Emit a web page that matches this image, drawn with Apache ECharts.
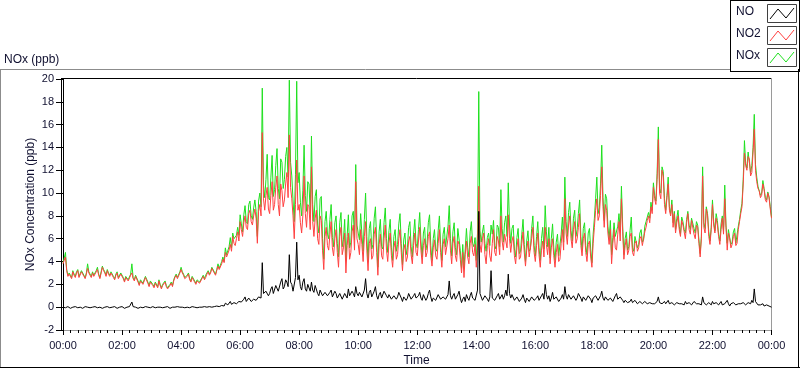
<!DOCTYPE html>
<html><head><meta charset="utf-8">
<script src="https://cdn.jsdelivr.net/npm/echarts@6/dist/echarts.min.js"></script>
<style>html,body{margin:0;padding:0;background:#fff}#c{width:800px;height:369px}</style>
</head><body><div id="c"></div>
<script>
// sampling: one value every 2.5 minutes from 00:00 to 24:00 (one row per hour)
const stepMinutes = 2.5;
const xTickLabels = ['00:00','02:00','04:00','06:00','08:00','10:00','12:00','14:00','16:00','18:00','20:00','22:00','00:00'];
const seriesNames = ['NO', 'NO2', 'NOx'];
const xAxisTitle = 'Time';
const yAxisTitle = 'NOx Concentration (ppb)';
const panelTitle = 'NOx (ppb)';

const no = [
 0.0,0.05,-0.05,0.0,0.05,-0.1,-0.1,0.0,0.0,0.05,0.05,-0.05,-0.05,0.0,0.0,-0.1,-0.1,0.0,0.05,0.0,0.0,0.05,-0.05,0.0,
 0.0,-0.05,0.05,0.0,-0.05,0.05,0.0,-0.1,-0.1,0.0,0.0,0.05,0.05,-0.05,-0.05,0.0,0.0,0.05,0.05,-0.05,-0.1,0.0,0.0,0.05,
 0.05,0.0,-0.1,0.0,0.0,-0.05,0.05,0.1,0.45,0.05,-0.05,0.0,0.0,-0.1,-0.05,0.0,0.05,-0.05,0.0,0.05,-0.05,0.0,0.0,-0.05,
 0.0,0.05,0.05,-0.05,-0.05,0.0,-0.1,0.0,0.0,-0.05,0.05,0.0,-0.05,0.05,0.0,-0.1,-0.05,0.0,0.05,0.0,0.0,0.05,0.1,0.0,
 0.05,0.0,0.0,-0.05,-0.05,0.0,0.05,-0.05,0.0,0.05,-0.05,0.0,0.0,-0.05,0.05,0.0,-0.05,0.0,0.0,0.05,0.1,0.0,0.0,0.05,
 0.05,0.0,0.1,0.05,0.05,0.1,0.15,0.05,0.1,0.15,0.2,0.1,0.35,0.2,0.2,0.3,0.5,0.25,0.3,0.4,0.45,0.3,0.35,0.5,
 0.6,0.45,0.4,0.7,0.9,0.5,0.5,0.8,0.7,0.5,0.5,0.7,0.8,0.6,0.6,0.9,1.0,0.8,3.9,1.2,1.1,1.4,1.5,1.0,
 1.2,1.6,1.8,1.2,1.3,1.9,2.0,1.4,1.5,2.2,2.5,1.6,1.8,2.4,2.2,1.8,4.6,2.2,2.0,1.4,1.5,2.6,5.7,2.4,
 2.8,1.8,1.5,2.2,2.5,1.6,1.4,2.0,2.0,1.4,2.2,1.5,1.3,1.9,1.8,1.2,1.0,1.5,1.6,1.0,0.9,1.3,1.4,1.0,
 1.0,1.3,1.5,0.9,0.8,1.4,1.2,0.8,0.9,1.2,1.3,0.7,0.7,1.2,1.1,0.8,1.6,1.0,0.9,1.4,1.2,0.9,1.8,1.2,
 1.0,1.3,1.4,0.9,0.9,1.5,2.5,1.2,0.8,1.3,1.5,0.9,1.0,1.4,1.8,1.0,0.7,1.1,1.3,0.8,0.9,1.4,1.5,1.0,
 0.8,1.1,1.2,0.7,0.6,1.0,1.0,0.7,0.9,1.3,1.4,0.8,0.5,0.9,1.0,0.6,0.8,1.2,1.3,0.7,0.6,1.0,1.2,0.8,
 0.7,1.0,1.3,0.8,0.6,1.1,1.0,0.6,0.8,1.2,1.5,0.9,0.5,0.8,0.9,0.6,0.7,1.1,1.2,0.7,0.6,0.9,1.0,0.7,
 0.8,1.1,2.3,1.0,0.7,1.0,1.2,0.7,0.6,1.1,1.4,0.8,0.4,0.7,0.9,0.5,1.1,0.8,0.6,1.0,1.3,0.8,0.8,0.6,
 0.6,1.5,8.4,1.2,0.9,0.6,0.7,1.0,1.1,0.7,0.5,0.9,3.2,0.8,0.8,0.6,0.6,1.0,1.2,0.7,0.9,1.1,0.7,1.0,
 1.5,1.0,2.9,1.2,0.8,1.1,1.0,0.6,0.6,0.9,0.9,0.5,0.5,0.8,1.1,0.7,0.4,0.8,0.9,0.5,0.6,0.9,1.0,0.6,
 0.5,0.8,1.0,0.6,0.6,1.0,1.2,0.7,2.0,1.1,0.7,1.0,0.5,0.8,1.3,0.7,0.6,0.9,0.9,0.5,0.4,0.8,1.1,0.7,
 1.8,1.0,0.7,1.1,1.2,0.7,0.6,1.0,1.0,0.6,0.8,1.2,1.3,0.8,0.5,0.9,0.9,0.6,0.6,1.0,1.1,0.7,0.4,0.8,
 0.8,1.0,1.1,0.6,0.7,1.0,1.4,0.8,0.6,0.9,1.0,0.6,0.5,0.8,0.8,0.5,0.6,1.0,1.2,0.7,0.7,0.9,0.9,0.6,
 0.4,0.6,0.6,0.4,0.3,0.5,0.7,0.4,0.4,0.6,0.5,0.3,0.3,0.5,0.6,0.3,0.4,0.5,0.5,0.3,0.3,0.4,0.4,0.3,
 0.4,0.3,0.3,0.5,0.9,0.4,0.5,0.3,0.4,0.5,0.3,0.2,0.6,0.3,0.2,0.4,0.4,0.2,0.3,0.4,0.5,0.3,0.2,0.3,
 0.3,0.2,0.5,0.3,0.2,0.4,0.4,0.2,0.3,0.5,0.5,0.3,0.2,0.3,0.3,0.2,0.9,0.4,0.4,0.2,0.2,0.4,0.3,0.2,
 0.5,0.3,0.2,0.4,0.4,0.2,0.3,0.5,0.2,0.3,0.3,0.2,0.6,0.3,0.1,0.3,0.2,0.4,0.4,0.2,0.1,0.3,0.2,0.3,
 0.3,0.4,0.5,0.2,0.2,0.4,0.4,0.3,0.6,0.4,1.6,0.5,0.4,0.2,0.3,0.2,0.2,0.3,0.1,0.2,0.2,0.1,0.1,0.2,
 0.0
];

const no2 = [
 3.8,4.1,4.4,3.2,2.7,2.9,2.8,2.5,3.1,2.8,2.6,3.0,3.2,2.6,2.7,3.1,3.0,2.7,2.5,2.9,3.4,3.0,2.8,2.6,
 3.0,2.7,2.6,3.1,3.3,2.8,2.5,3.0,3.5,3.2,3.0,2.7,3.2,2.9,2.7,3.0,2.9,2.6,2.4,2.8,3.0,2.5,2.6,2.9,
 2.9,2.5,2.2,2.6,2.7,2.3,2.4,2.8,3.0,2.5,2.3,2.7,2.6,2.2,1.9,2.3,2.4,2.0,2.1,2.6,2.5,2.1,1.8,2.2,
 2.2,1.9,1.7,2.1,2.0,1.7,2.3,1.9,1.6,1.9,2.0,2.2,1.8,1.6,1.5,1.9,2.1,1.8,2.3,2.6,2.8,2.5,2.4,3.0,
 3.3,3.0,2.8,2.5,2.4,2.7,2.9,2.4,2.2,2.6,2.5,2.2,2.0,2.3,2.4,2.1,2.2,2.5,2.7,2.4,2.6,2.9,3.1,2.8,
 3.0,3.4,3.3,3.0,2.8,3.2,3.6,3.3,3.2,3.8,4.2,3.9,4.8,4.4,4.3,5.0,5.5,4.9,6.2,5.6,5.4,6.0,6.6,5.8,
 7.5,6.8,6.2,7.4,8.0,7.0,6.8,8.2,8.5,7.5,7.2,8.0,8.6,7.8,5.6,8.4,9.0,8.0,15.3,9.5,8.5,9.8,10.5,8.6,
 8.2,9.8,11.0,8.5,9.0,10.5,11.5,9.0,8.0,10.8,10.2,8.8,9.4,10.8,11.8,9.6,15.1,10.5,9.5,8.0,6.0,9.0,12.9,8.5,
 9.0,7.4,6.5,8.0,11.5,8.2,7.0,9.0,8.8,6.8,12.3,7.5,6.2,7.8,8.5,6.0,5.5,8.0,7.6,5.0,3.3,6.2,7.0,5.4,
 5.0,6.4,7.5,5.2,4.5,6.0,6.8,4.8,3.5,6.2,7.0,4.6,5.2,6.5,3.0,5.4,6.5,4.2,4.8,6.6,7.2,5.0,11.0,6.0,
 5.5,4.6,6.8,5.5,4.0,6.2,7.5,5.0,3.2,5.6,6.0,4.2,4.5,6.4,7.0,4.8,2.8,5.5,6.4,4.5,4.2,6.0,7.2,5.0,
 4.0,5.6,6.5,4.5,3.5,5.2,5.8,4.2,4.6,6.0,6.8,4.8,3.2,5.0,5.5,4.0,4.4,5.8,6.2,4.6,3.8,5.4,6.5,4.8,
 4.5,5.8,7.0,5.0,3.8,5.4,6.0,4.4,4.8,6.2,6.6,4.5,3.6,5.2,5.9,4.5,4.2,5.6,6.8,4.8,3.5,5.5,6.0,4.6,
 4.6,6.0,7.2,5.0,3.8,5.6,6.2,4.5,4.0,5.8,5.5,4.2,3.0,4.8,2.6,4.6,5.8,4.4,3.8,5.6,6.2,4.8,4.5,5.5,
 3.5,5.0,10.6,5.5,4.8,6.0,6.5,4.6,3.8,5.4,6.0,4.5,4.0,5.6,6.8,4.8,4.5,6.2,5.8,4.6,8.0,5.8,5.0,6.4,
 6.5,5.2,8.1,6.0,4.8,5.8,6.2,4.5,3.8,5.2,6.0,4.2,4.4,5.6,6.6,4.8,3.6,5.0,5.8,4.4,4.5,6.0,7.0,4.8,
 4.0,5.4,6.5,4.6,3.5,5.0,5.8,4.4,7.0,5.5,4.6,6.0,3.8,5.2,6.0,4.5,3.5,4.8,5.5,4.0,4.2,5.6,6.8,5.0,
 9.5,6.5,5.5,7.2,8.0,6.0,5.2,6.8,7.5,5.6,6.0,7.0,8.2,5.4,4.5,6.0,6.5,4.8,4.0,5.5,5.8,4.4,3.5,5.6,
 7.0,8.5,9.5,7.6,8.0,9.8,12.3,8.8,7.0,9.0,8.5,6.5,5.5,6.8,3.8,5.6,6.8,5.2,5.0,6.4,7.5,5.8,9.5,6.6,
 4.2,5.4,6.0,4.6,5.0,6.2,6.5,4.8,4.5,5.6,5.8,4.9,5.2,6.0,6.2,5.4,5.5,6.6,7.0,7.6,8.0,7.4,8.8,8.2,
 10.5,9.5,9.0,11.2,14.7,10.0,9.5,12.0,11.5,9.0,8.2,9.6,10.8,8.5,8.0,9.0,7.0,8.2,6.5,7.4,8.0,6.8,6.2,7.6,
 7.2,6.6,6.0,7.4,8.2,6.8,6.4,7.6,7.5,6.4,6.0,7.2,7.0,5.6,4.4,6.0,11.5,7.0,6.5,8.6,8.0,6.2,5.5,6.8,
 9.0,7.2,6.5,7.8,7.2,6.2,5.5,6.8,7.8,6.4,9.5,7.0,5.0,6.5,6.0,5.2,5.5,6.2,6.5,5.4,5.6,6.8,7.5,8.2,
 8.8,10.8,13.5,12.4,12.0,13.2,13.0,11.5,11.8,13.6,15.6,12.0,11.0,10.4,10.2,9.6,9.8,10.8,10.3,9.4,9.2,10.0,9.6,8.6,
 7.8
];

const nox = [
 3.9,4.3,4.8,3.3,2.8,3.0,2.8,2.6,3.2,2.9,2.7,3.1,3.3,2.7,2.8,3.2,3.1,2.8,2.6,3.0,3.8,3.1,2.9,2.7,
 3.1,2.8,2.7,3.2,3.5,2.9,2.6,3.1,3.6,3.3,3.1,2.8,3.3,3.0,2.8,3.1,3.0,2.7,2.5,2.9,3.1,2.6,2.7,3.0,
 3.0,2.6,2.3,2.7,2.8,2.4,2.5,2.9,3.8,2.6,2.4,2.8,2.7,2.3,2.0,2.4,2.5,2.1,2.2,2.7,2.6,2.2,1.9,2.3,
 2.3,2.0,1.8,2.2,2.1,1.8,2.4,2.0,1.7,2.0,2.1,2.3,1.9,1.7,1.6,2.0,2.2,1.9,2.4,2.7,2.9,2.6,2.5,3.1,
 3.5,3.1,2.9,2.6,2.5,2.8,3.0,2.5,2.3,2.7,2.6,2.3,2.1,2.4,2.5,2.2,2.3,2.6,2.8,2.5,2.8,3.0,3.2,2.9,
 3.1,3.5,3.4,3.1,2.9,3.3,3.8,3.4,3.3,4.0,4.4,4.0,5.2,4.6,4.5,5.3,6.1,5.2,6.5,6.0,5.9,6.3,7.0,6.3,
 8.1,7.3,6.6,8.1,8.9,7.5,7.3,9.0,9.3,8.0,7.7,8.7,9.4,8.4,6.2,9.3,10.0,8.8,19.2,10.7,9.6,11.2,13.4,9.6,
 9.4,11.4,13.3,9.7,10.3,12.4,13.9,10.4,9.5,13.0,12.7,10.4,11.2,13.2,14.0,11.4,19.9,12.7,11.5,9.4,7.5,11.6,19.8,10.9,
 11.8,9.2,8.0,10.2,14.2,9.8,8.4,11.0,10.8,8.2,15.0,9.0,7.5,9.7,10.3,7.2,6.5,9.5,9.7,6.0,4.2,7.5,8.4,6.4,
 6.0,7.7,9.0,6.1,5.3,7.4,8.0,5.6,4.4,7.4,8.3,5.3,5.9,7.7,4.1,6.2,8.1,5.2,5.7,8.0,8.4,5.9,12.5,7.2,
 6.5,5.9,8.2,6.4,4.9,7.7,10.0,6.2,4.0,6.9,7.5,5.1,5.5,7.8,8.8,5.8,3.5,6.6,7.7,5.3,5.1,7.4,8.7,6.0,
 4.8,6.7,7.7,5.2,4.1,6.2,6.8,4.9,5.5,7.3,8.2,5.6,3.7,5.9,6.5,4.6,5.2,7.0,7.5,5.3,4.4,6.4,7.7,5.6,
 5.2,6.8,8.3,5.8,4.4,6.5,7.0,5.0,5.6,7.4,8.1,5.4,4.1,6.0,6.8,5.1,4.9,6.7,8.0,5.5,4.1,6.4,7.0,5.3,
 5.4,7.1,8.9,6.0,4.5,6.6,7.4,5.2,4.6,6.9,6.9,5.0,3.4,5.5,3.5,5.1,6.9,5.2,4.4,6.6,7.5,5.6,5.3,6.1,
 4.1,6.5,18.9,6.7,5.7,6.6,7.2,5.6,4.9,6.1,6.5,5.4,7.2,6.4,7.6,5.4,5.1,7.2,7.0,5.3,10.3,6.9,5.7,7.4,
 8.0,6.2,10.9,7.2,5.6,6.9,7.2,5.1,4.4,6.1,6.9,4.7,4.9,6.4,7.7,5.5,4.0,5.8,6.7,4.9,5.1,6.9,8.0,5.4,
 4.5,6.2,7.5,5.2,4.1,6.0,7.0,5.1,8.9,6.6,5.3,7.0,4.3,6.0,7.3,5.2,4.1,5.7,6.4,4.5,4.6,6.4,7.9,5.7,
 11.4,7.5,6.2,8.3,9.2,6.7,5.8,7.8,8.5,6.2,6.8,8.2,9.4,6.2,5.0,6.9,7.4,5.4,4.6,6.5,6.9,5.1,3.9,6.4,
 7.8,9.5,11.4,8.2,8.7,10.8,14.2,9.6,7.6,9.9,9.5,7.1,6.0,7.6,4.6,6.1,7.4,6.2,6.2,7.1,8.2,6.7,10.6,7.2,
 4.6,6.0,6.6,5.0,5.3,6.7,7.9,5.2,4.9,6.2,6.3,5.2,5.5,6.5,6.8,5.7,5.9,7.1,7.5,7.9,8.3,7.8,9.2,8.5,
 10.9,9.8,9.3,11.7,15.8,10.4,10.0,12.3,11.9,9.5,8.5,9.8,11.4,8.8,8.2,9.4,7.4,8.4,6.8,7.8,8.5,7.1,6.4,7.9,
 7.5,6.8,6.5,7.7,8.4,7.2,6.8,7.8,7.8,6.9,6.5,7.5,7.2,5.9,4.7,6.2,12.3,7.4,6.9,8.8,8.2,6.6,5.8,7.0,
 9.4,7.5,6.7,8.2,7.6,6.4,5.8,7.3,8.0,6.7,10.7,7.2,5.6,6.8,6.1,5.5,5.7,6.6,6.9,5.6,5.7,7.1,7.7,8.5,
 9.1,11.2,14.6,12.6,12.2,13.6,13.5,11.8,12.4,14.0,16.9,12.5,11.4,10.6,10.5,9.8,10.0,11.1,10.4,9.6,9.4,10.1,9.7,8.8,
 7.9
];

const colors = { NO: '#000000', NO2: '#ff4040', NOx: '#1ee01e' };

function toPairs(values) {
  return values.map((v, i) => [i * stepMinutes / 60, v]);
}

const FONT = '"Liberation Sans", Arial, sans-serif';
const TXT = '#101030';
const chart = echarts.init(document.getElementById('c'));

function zig(x, y, color) {
  return { type: 'polyline', shape: { points: [[x, y + 14], [x + 8, y + 4], [x + 16, y + 13], [x + 24, y + 3]] },
    style: { stroke: color, lineWidth: 1, fill: null }, silent: true };
}
function box(y) {
  return { type: 'rect', shape: { x: 767.5, y: y + 0.5, width: 29, height: 18 },
    style: { stroke: '#404040', lineWidth: 1, fill: '#fff' }, silent: true };
}
function line(x1, y1, x2, y2, c) {
  return { type: 'line', shape: { x1, y1, x2, y2 }, style: { stroke: c, lineWidth: 1 }, silent: true };
}

const legendRows = seriesNames.map((n, k) => ({ name: n, y: 4 + k * 22 }));

const graphics = [
  line(0, 69.5, 731, 69.5, '#8c8c8c'),
  line(0.5, 69, 0.5, 368, '#8c8c8c'),
  line(0, 367.5, 800, 367.5, '#000'),
  line(798.5, 69, 798.5, 368, '#000'),
  line(730.5, 0, 730.5, 72, '#000'),
  line(730, 71.5, 800, 71.5, '#000'),
  line(730, 0.5, 800, 0.5, '#000'),
  line(799.5, 0, 799.5, 72, '#000'),
  line(61, 78.5, 772, 78.5, '#000'),
  line(61.5, 78, 61.5, 331, '#000'),
  line(771.5, 78, 771.5, 331, '#9a9a9a'),
  { type: 'text', left: 4, top: 54, style: { text: panelTitle, font: '12px ' + FONT, fill: TXT } },
  { type: 'text', x: 416.5, y: 361, silent: true,
    style: { text: xAxisTitle, font: '12px ' + FONT, fill: TXT, align: 'center', verticalAlign: 'middle' } },
  { type: 'text', x: 31, y: 204.5, rotation: Math.PI / 2, silent: true,
    style: { text: yAxisTitle, font: '12px ' + FONT, fill: TXT, align: 'center', verticalAlign: 'middle' } }
];
legendRows.forEach(r => {
  graphics.push({ type: 'text', left: 736, top: r.y + 2, style: { text: r.name, font: '12px ' + FONT, fill: TXT } });
  graphics.push(box(r.y));
  graphics.push(zig(770, r.y + 1, colors[r.name]));
});

chart.setOption({
  animation: false,
  grid: { left: 63, right: 28.5, top: 79, bottom: 39, outerBoundsMode: 'none' },
  xAxis: {
    type: 'value', min: 0, max: 24, interval: 2,
    axisLine: { show: true, onZero: false, lineStyle: { color: '#9a9a9a' } },
    axisTick: { show: true, length: 5, lineStyle: { color: '#000', width: 1 } },
    minorTick: { show: true, splitNumber: 8, length: 3, lineStyle: { color: '#000', width: 1 } },
    splitLine: { show: false },
    axisLabel: { fontFamily: FONT, fontSize: 11, color: TXT, margin: 10,
      formatter: v => xTickLabels[Math.round(v / 2)] }
  },
  yAxis: {
    type: 'value', min: -2, max: 20, interval: 2,
    axisLine: { show: true, onZero: false, lineStyle: { color: '#000' } },
    axisTick: { show: true, length: 7, lineStyle: { color: '#000', width: 1 } },
    splitLine: { show: false },
    axisLabel: { fontFamily: FONT, fontSize: 11, color: TXT, margin: 9 }
  },
  series: [
    { name: 'NOx', type: 'line', data: toPairs(nox), showSymbol: false,
      lineStyle: { color: colors.NOx, width: 1 }, itemStyle: { color: colors.NOx } },
    { name: 'NO2', type: 'line', data: toPairs(no2), showSymbol: false,
      lineStyle: { color: colors.NO2, width: 1 }, itemStyle: { color: colors.NO2 } },
    { name: 'NO', type: 'line', data: toPairs(no), showSymbol: false,
      lineStyle: { color: colors.NO, width: 1 }, itemStyle: { color: colors.NO } }
  ],
  graphic: graphics
});
</script></body></html>
